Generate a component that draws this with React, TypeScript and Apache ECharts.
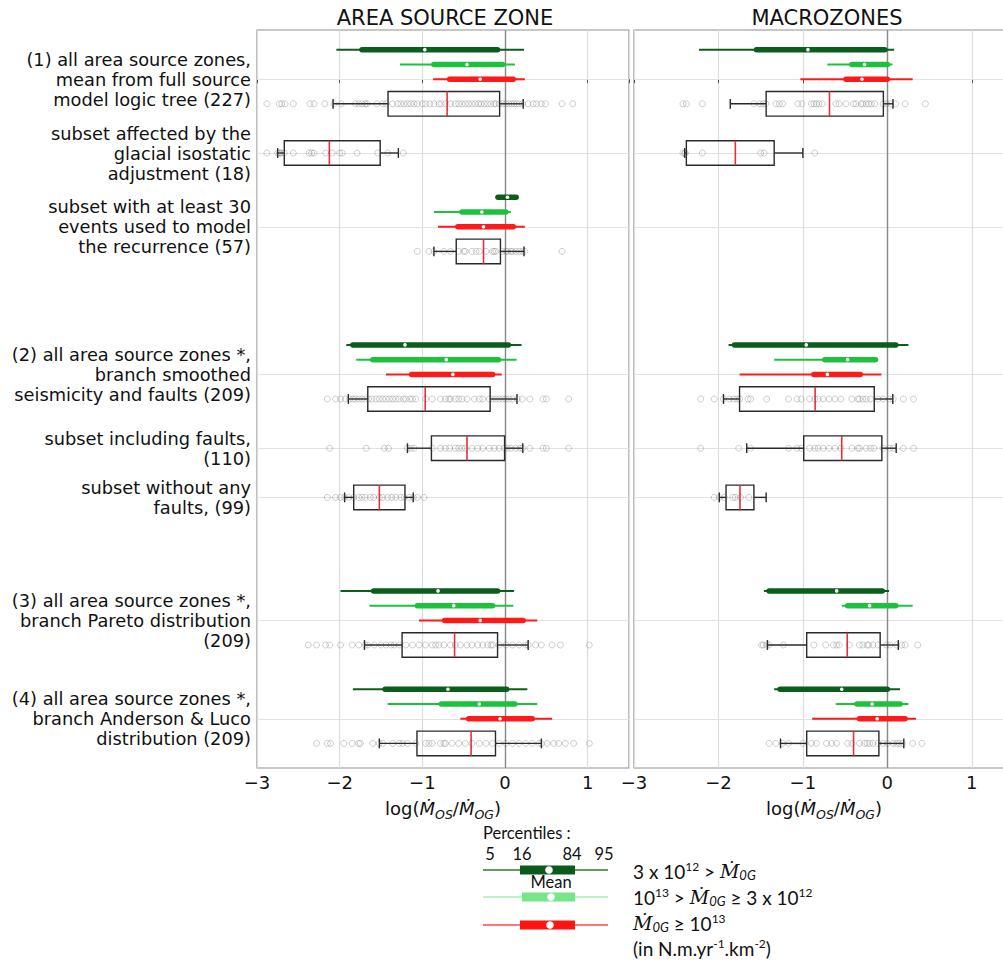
import React, { useEffect, useRef } from "react";
import * as echarts from "echarts";

const ROW_LABELS = [
  "(1) all area source zones,\nmean from full source\nmodel logic tree (227)",
  "subset affected by the\nglacial isostatic\nadjustment (18)",
  "subset with at least 30\nevents used to model\nthe recurrence (57)",
  "(2) all area source zones *,\nbranch smoothed\nseismicity and faults (209)",
  "subset including faults,\n(110)",
  "subset without any\nfaults, (99)",
  "(3) all area source zones *,\nbranch Pareto distribution\n(209)",
  "(4) all area source zones *,\nbranch Anderson & Luco\ndistribution (209)",
];
const ROW_POS = [0, 3, 6, 12, 15, 17, 22, 26];
const BOX_SHIFT = [1, 0, 1, 1, 0, 0, 1, 1];
const SHIFT_DARK = -1.2;
const SHIFT_LIGHT = -0.6;
const SHIFT_RED = 0;
const X_TICKS = [-3, -2, -1, 0, 1];

// percentile bars: [row, p5, p16, p84, p95, mean]
const ASZ_DARK = [
  [0, -2.04, -1.73, -0.09, 0.23, -0.97],
  [2, -0.085, -0.085, 0.135, 0.135, 0.03],
  [3, -1.92, -1.84, 0.04, 0.2, -1.21],
  [6, -1.99, -1.59, -0.09, 0.11, -0.81],
  [7, -1.84, -1.45, 0.02, 0.27, -0.69],
];
const ASZ_LIGHT = [
  [0, -1.27, -0.86, -0.03, 0.12, -0.46],
  [2, -0.86, -0.52, 0.01, 0.07, -0.28],
  [3, -1.8, -1.6, -0.08, 0.14, -0.71],
  [6, -1.64, -1.06, -0.15, 0.1, -0.62],
  [7, -1.42, -0.77, 0.12, 0.39, -0.31],
];
const ASZ_RED = [
  [0, -0.87, -0.67, 0.1, 0.24, -0.3],
  [2, -0.81, -0.57, 0.1, 0.24, -0.26],
  [3, -1.44, -1.13, -0.15, -0.04, -0.63],
  [6, -1.04, -0.73, 0.22, 0.39, -0.3],
  [7, -0.54, -0.44, 0.33, 0.57, -0.06],
];
// boxes: [row, lowWhisker, q1, median, q3, highWhisker]
const ASZ_BOX = [
  [0, -2.08, -1.415, -0.7, -0.065, 0.22],
  [1, -2.75, -2.67, -2.125, -1.51, -1.29],
  [2, -0.86, -0.59, -0.26, -0.055, 0.23],
  [3, -1.895, -1.66, -0.965, -0.18, 0.145],
  [4, -1.18, -0.89, -0.46, -0.005, 0.215],
  [5, -1.94, -1.83, -1.52, -1.21, -1.11],
  [6, -1.7, -1.245, -0.61, -0.09, 0.28],
  [7, -1.52, -1.065, -0.41, -0.115, 0.44],
];
const ASZ_POINTS = [
  [-2.88, -2.73, -2.7, -2.66, -2.56, -2.36, -2.31, -2.18, -2.07, -1.98, -1.81, -1.77, -1.73, -1.69, -1.67, -1.55, -1.48, -1.44, -1.36, -1.3, -1.26, -1.22, -1.18, -1.14, -1.1, -1.06, -1.0, -0.96, -0.91, -0.86, -0.8, -0.77, -0.72, -0.66, -0.6, -0.56, -0.52, -0.48, -0.44, -0.4, -0.36, -0.32, -0.29, -0.25, -0.21, -0.17, -0.13, -0.11, -0.07, -0.03, 0.01, 0.05, 0.08, 0.11, 0.14, 0.17, 0.21, 0.28, 0.34, 0.38, 0.44, 0.49, 0.69, 0.82],
  [-2.88, -2.75, -2.73, -2.72, -2.7, -2.67, -2.56, -2.37, -2.34, -2.31, -2.17, -2.09, -2.0, -1.97, -1.79, -1.54, -1.42, -1.23],
  [-1.06, -0.92, -0.86, -0.74, -0.66, -0.56, -0.5, -0.48, -0.4, -0.35, -0.31, -0.23, -0.15, -0.13, -0.11, -0.03, 0.01, 0.03, 0.07, 0.09, 0.13, 0.17, 0.21, 0.24, 0.69],
  [-2.15, -2.05, -1.99, -1.93, -1.88, -1.84, -1.81, -1.77, -1.73, -1.69, -1.65, -1.61, -1.56, -1.52, -1.48, -1.44, -1.4, -1.36, -1.32, -1.28, -1.23, -1.2, -1.15, -1.12, -1.08, -0.96, -0.88, -0.78, -0.72, -0.68, -0.66, -0.6, -0.56, -0.52, -0.46, -0.37, -0.31, -0.27, -0.19, -0.15, -0.11, -0.07, -0.03, 0.01, 0.05, 0.09, 0.15, 0.21, 0.3, 0.46, 0.5, 0.77],
  [-2.12, -1.68, -1.46, -1.41, -1.18, -1.14, -1.1, -0.88, -0.78, -0.72, -0.67, -0.6, -0.56, -0.52, -0.48, -0.4, -0.33, -0.27, -0.19, -0.13, -0.07, -0.01, 0.03, 0.07, 0.13, 0.18, 0.21, 0.3, 0.46, 0.5, 0.77],
  [-2.15, -2.05, -1.99, -1.94, -1.89, -1.83, -1.77, -1.73, -1.69, -1.63, -1.59, -1.52, -1.48, -1.42, -1.37, -1.32, -1.26, -1.22, -1.16, -1.11, -1.06, -0.98],
  [-2.38, -2.28, -2.17, -2.12, -1.99, -1.85, -1.77, -1.69, -1.66, -1.58, -1.5, -1.44, -1.38, -1.34, -1.28, -1.2, -1.12, -1.04, -0.96, -0.88, -0.84, -0.8, -0.74, -0.66, -0.6, -0.54, -0.46, -0.4, -0.33, -0.27, -0.21, -0.17, -0.15, -0.07, 0.01, 0.09, 0.17, 0.25, 0.28, 0.37, 0.44, 0.57, 0.67, 1.02],
  [-2.28, -2.15, -2.11, -1.95, -1.85, -1.77, -1.75, -1.6, -1.52, -1.48, -1.36, -1.28, -1.24, -1.18, -1.08, -0.96, -0.92, -0.88, -0.78, -0.74, -0.72, -0.64, -0.56, -0.48, -0.4, -0.31, -0.23, -0.15, -0.07, 0.01, 0.09, 0.17, 0.25, 0.33, 0.41, 0.44, 0.51, 0.59, 0.65, 0.73, 0.83, 1.02],
];

const MZ_DARK = [
  [0, -2.23, -1.55, -0.03, 0.08, -0.94],
  [3, -1.88, -1.81, 0.1, 0.25, -0.96],
  [6, -1.46, -1.4, -0.06, 0.02, -0.6],
  [7, -1.34, -1.27, 0.0, 0.15, -0.54],
];
const MZ_LIGHT = [
  [0, -0.71, -0.42, 0.0, 0.06, -0.27],
  [3, -1.34, -0.74, -0.14, -0.11, -0.47],
  [6, -0.54, -0.47, 0.1, 0.3, -0.21],
  [7, -0.61, -0.36, 0.15, 0.25, -0.18],
];
const MZ_RED = [
  [0, -1.03, -0.49, 0.0, 0.3, -0.3],
  [3, -1.75, -0.87, -0.32, -0.07, -0.71],
  [7, -0.89, -0.33, 0.21, 0.34, -0.12],
];
const MZ_BOX = [
  [0, -1.86, -1.435, -0.685, -0.047, 0.067],
  [1, -2.4, -2.38, -1.8, -1.34, -1.0],
  [3, -1.94, -1.75, -0.855, -0.155, 0.065],
  [4, -1.665, -0.99, -0.54, -0.065, 0.105],
  [5, -1.99, -1.91, -1.745, -1.58, -1.435],
  [6, -1.42, -0.955, -0.475, -0.085, 0.13],
  [7, -1.265, -0.955, -0.4, -0.1, 0.195],
];
const MZ_POINTS = [
  [-2.42, -2.38, -2.19, -1.58, -1.51, -1.47, -1.44, -1.32, -1.28, -1.24, -1.06, -1.01, -0.9, -0.87, -0.84, -0.81, -0.77, -0.61, -0.57, -0.49, -0.4, -0.37, -0.31, -0.29, -0.25, -0.22, -0.19, -0.15, -0.05, -0.01, 0.04, 0.1, 0.21, 0.45],
  [-2.42, -2.4, -2.39, -2.19, -1.5, -1.46, -0.86],
  [],
  [-2.21, -2.05, -1.94, -1.87, -1.82, -1.78, -1.75, -1.65, -1.62, -1.43, -1.17, -1.07, -1.02, -0.92, -0.86, -0.82, -0.76, -0.69, -0.62, -0.55, -0.42, -0.35, -0.33, -0.29, -0.25, -0.2, -0.11, -0.05, 0.03, 0.07, 0.19, 0.31],
  [-2.21, -1.76, -1.62, -1.17, -1.07, -1.02, -0.92, -0.86, -0.82, -0.76, -0.69, -0.62, -0.55, -0.42, -0.35, -0.33, -0.25, -0.2, -0.16, -0.05, 0.03, 0.07, 0.19, 0.31],
  [-2.05, -1.99, -1.93, -1.83, -1.8, -1.74, -1.64],
  [-1.49, -1.47, -1.43, -1.4, -1.23, -0.87, -0.73, -0.64, -0.6, -0.57, -0.45, -0.33, -0.29, -0.24, -0.22, -0.17, -0.11, -0.01, 0.03, 0.11, 0.17, 0.21, 0.36],
  [-1.4, -1.32, -1.24, -1.17, -1.0, -0.9, -0.84, -0.72, -0.66, -0.6, -0.47, -0.42, -0.33, -0.27, -0.24, -0.21, -0.17, -0.11, -0.05, 0.0, 0.07, 0.11, 0.14, 0.18, 0.3, 0.41],
];

const C_DARK = "#0a5e1c";
const C_LIGHT = "#1cc23c";
const C_RED = "#ff1a1a";
const FONT = "DejaVu Sans";
const LFONT = "Lato";

function percentileSeries(rows: number[][], shift: number, color: string, gi: number) {
  return {
    type: "custom",
    xAxisIndex: gi,
    yAxisIndex: gi,
    z: 2,
    silent: true,
    encode: { x: [0, 1, 2, 3, 4], y: 5 },
    data: rows.map((r) => [r[1], r[2], r[3], r[4], r[5], ROW_POS[r[0]] + shift]),
    renderItem: (params: any, api: any) => {
      const y = api.value(5);
      const a = api.coord([api.value(0), y]);
      const b = api.coord([api.value(1), y]);
      const c = api.coord([api.value(2), y]);
      const d = api.coord([api.value(3), y]);
      const m = api.coord([api.value(4), y]);
      return {
        type: "group",
        children: [
          { type: "line", shape: { x1: a[0], y1: a[1], x2: d[0], y2: d[1] }, style: { stroke: color, lineWidth: 2 } },
          { type: "line", shape: { x1: b[0], y1: b[1], x2: c[0], y2: c[1] }, style: { stroke: color, lineWidth: 5.5, lineCap: "round" } },
          { type: "circle", shape: { cx: m[0], cy: m[1], r: 1.8 }, style: { fill: "#ffffff" } },
        ],
      };
    },
  };
}

function boxSeries(rows: number[][], gi: number) {
  return {
    type: "custom",
    xAxisIndex: gi,
    yAxisIndex: gi,
    z: 3,
    silent: true,
    encode: { x: [0, 1, 2, 3, 4], y: 5 },
    data: rows.map((r) => [r[1], r[2], r[3], r[4], r[5], ROW_POS[r[0]] + BOX_SHIFT[r[0]]]),
    renderItem: (params: any, api: any) => {
      const y = api.value(5);
      const unit = api.size([0, 1])[1];
      const h = unit * 0.5;
      const cap = unit * 0.2;
      const wl = api.coord([api.value(0), y]);
      const q1 = api.coord([api.value(1), y]);
      const md = api.coord([api.value(2), y]);
      const q3 = api.coord([api.value(3), y]);
      const wh = api.coord([api.value(4), y]);
      const cy = wl[1];
      const st = { stroke: "#2a2a2a", lineWidth: 1.4, fill: null };
      return {
        type: "group",
        children: [
          { type: "line", shape: { x1: wl[0], y1: cy, x2: q1[0], y2: cy }, style: st },
          { type: "line", shape: { x1: q3[0], y1: cy, x2: wh[0], y2: cy }, style: st },
          { type: "line", shape: { x1: wl[0], y1: cy - cap, x2: wl[0], y2: cy + cap }, style: st },
          { type: "line", shape: { x1: wh[0], y1: cy - cap, x2: wh[0], y2: cy + cap }, style: st },
          { type: "rect", shape: { x: q1[0], y: cy - h, width: q3[0] - q1[0], height: 2 * h }, style: { stroke: "#2a2a2a", lineWidth: 1.4, fill: "none" } },
          { type: "line", shape: { x1: md[0], y1: cy - h, x2: md[0], y2: cy + h }, style: { stroke: "#e8303c", lineWidth: 1.6 } },
        ],
      };
    },
  };
}

function pointSeries(points: number[][], gi: number) {
  const data: number[][] = [];
  points.forEach((row, i) => row.forEach((v) => data.push([v, ROW_POS[i] + BOX_SHIFT[i]])));
  return {
    type: "scatter",
    xAxisIndex: gi,
    yAxisIndex: gi,
    z: 4,
    silent: true,
    symbol: "circle",
    symbolSize: 6,
    itemStyle: { color: "rgba(0,0,0,0)", borderColor: "rgba(70,70,70,0.42)", borderWidth: 0.8 },
    data,
    markLine: {
      silent: true,
      z: 1,
      symbol: ["none", "none"],
      label: { show: false },
      data: [
        ...ROW_POS.map((p) => ({ yAxis: p, lineStyle: { color: "#e2e2e2", width: 1.2, type: "solid" } })),
        { xAxis: 0, lineStyle: { color: "#8a8a8a", width: 1.4, type: "solid" } },
      ],
    },
  };
}

const xName = "log({m|Ṁ}{s|OS}/{m|Ṁ}{s|OG})";
const xNameStyle = {
  fontFamily: FONT,
  fontSize: 18,
  color: "#111",
  lineHeight: 25,
  rich: {
    m: { fontFamily: FONT, fontSize: 18, fontStyle: "italic", color: "#111", lineHeight: 25 },
    s: { fontFamily: FONT, fontSize: 12.5, fontStyle: "italic", color: "#111", lineHeight: 15, verticalAlign: "bottom" },
  },
};

function xAxis(gi: number) {
  return {
    type: "value",
    gridIndex: gi,
    min: -3,
    max: 1.5,
    interval: 1,
    axisLine: { show: false },
    axisTick: { show: true, length: 4, lineStyle: { color: "#555" } },
    axisLabel: {
      fontFamily: FONT,
      fontSize: 18,
      color: "#111",
      margin: 5,
      formatter: (v: number) => (X_TICKS.includes(v) ? (v < 0 ? "−" + Math.abs(v) : String(v)) : ""),
    },
    splitLine: { show: true, lineStyle: { color: "#dcdcdc", width: 1.2 } },
    name: xName,
    nameLocation: "middle",
    nameGap: 23,
    nameTextStyle: xNameStyle,
  };
}

function yAxis(gi: number, labels: boolean) {
  return {
    type: "value",
    gridIndex: gi,
    min: -2,
    max: 28,
    interval: 1,
    inverse: true,
    axisLine: { show: false },
    axisTick: { show: false },
    splitLine: { show: false },
    axisLabel: {
      show: labels,
      fontFamily: FONT,
      fontSize: 17.8,
      lineHeight: 20,
      color: "#111",
      align: "right",
      margin: 6,
      formatter: (v: number) => {
        const r = Math.round(v);
        if (Math.abs(v - r) > 1e-6) return "";
        const i = ROW_POS.indexOf(r);
        return i >= 0 ? ROW_LABELS[i] : "";
      },
    },
  };
}

const supS = { fontFamily: LFONT, fontSize: 12, color: "#111", lineHeight: 12, verticalAlign: "top" };
const subS = { fontFamily: LFONT, fontSize: 13, fontStyle: "italic", color: "#111", lineHeight: 13, verticalAlign: "bottom" };
const mS = { fontFamily: "DejaVu Serif", fontSize: 19, fontStyle: "italic", color: "#111", lineHeight: 21 };
const legendRich = { sup: supS, sub: subS, m: mS };

function legendText(x: number, y: number, text: string, extra: any = {}) {
  return {
    type: "text",
    x,
    y,
    silent: true,
    style: {
      text,
      fontFamily: LFONT,
      fontSize: 19,
      fill: "#111",
      lineHeight: 21,
      verticalAlign: "middle",
      align: "left",
      rich: legendRich,
      ...extra,
    },
  };
}

function legendBar(y: number, line: string, fill: string, x0: number, mx: number) {
  return [
    { type: "line", silent: true, shape: { x1: 483, y1: y, x2: 608, y2: y }, style: { stroke: line, lineWidth: 1.5 } },
    { type: "rect", silent: true, shape: { x: x0, y: y - 4.5, width: 575 - x0, height: 9 }, style: { fill } },
    { type: "circle", silent: true, shape: { cx: mx, cy: y, r: 3.8 }, style: { fill: "#fff" } },
  ];
}

export default function App() {
  const ref = useRef<HTMLDivElement>(null);
  useEffect(() => {
    if (!ref.current) return;
    const chart = echarts.init(ref.current, null, { renderer: "svg" });
    const option: any = {
      animation: false,
      backgroundColor: "#ffffff",
      grid: [
        { left: 257, top: 30, width: 372, height: 738, show: true, borderColor: "#8f8f8f", borderWidth: 1.2, backgroundColor: "transparent" },
        { left: 634, top: 30, width: 380, height: 738, show: true, borderColor: "#8f8f8f", borderWidth: 1.2, backgroundColor: "transparent" },
      ],
      xAxis: [xAxis(0), xAxis(1)],
      yAxis: [yAxis(0, true), yAxis(1, false)],
      series: [
        pointSeries(ASZ_POINTS, 0),
        percentileSeries(ASZ_DARK, SHIFT_DARK, C_DARK, 0),
        percentileSeries(ASZ_LIGHT, SHIFT_LIGHT, C_LIGHT, 0),
        percentileSeries(ASZ_RED, SHIFT_RED, C_RED, 0),
        boxSeries(ASZ_BOX, 0),
        pointSeries(MZ_POINTS, 1),
        percentileSeries(MZ_DARK, SHIFT_DARK, C_DARK, 1),
        percentileSeries(MZ_LIGHT, SHIFT_LIGHT, C_LIGHT, 1),
        percentileSeries(MZ_RED, SHIFT_RED, C_RED, 1),
        boxSeries(MZ_BOX, 1),
      ],
      graphic: [
        { type: "text", x: 445, y: 18, silent: true, style: { text: "AREA SOURCE ZONE", fontFamily: FONT, fontSize: 21, fill: "#111", align: "center", verticalAlign: "middle" } },
        { type: "text", x: 827, y: 18, silent: true, style: { text: "MACROZONES", fontFamily: FONT, fontSize: 21, fill: "#111", align: "center", verticalAlign: "middle" } },
        legendText(483, 833, "Percentiles :", { fontSize: 16.5, lineHeight: 18 }),
        legendText(490, 854, "5", { fontSize: 16.5, lineHeight: 18, align: "center" }),
        legendText(522, 854, "16", { fontSize: 16.5, lineHeight: 18, align: "center" }),
        legendText(572, 854, "84", { fontSize: 16.5, lineHeight: 18, align: "center" }),
        legendText(604, 854, "95", { fontSize: 16.5, lineHeight: 18, align: "center" }),
        ...legendBar(870, "#2e7a38", "#0a5a1c", 520, 549),
        legendText(551, 882, "Mean", { fontSize: 16.5, lineHeight: 18, align: "center" }),
        ...legendBar(897, "#a6efb0", "#77e68a", 522, 551),
        ...legendBar(925, "#ff4848", "#ff1414", 520, 550),
        legendText(633, 871, "3 x 10{sup|12} > {m|Ṁ}{sub|0G}"),
        legendText(633, 897, "10{sup|13} > {m|Ṁ}{sub|0G} ≥ 3 x 10{sup|12}"),
        legendText(633, 923, "{m|Ṁ}{sub|0G} ≥ 10{sup|13}"),
        legendText(633, 948, "(in N.m.yr{sup|-1}.km{sup|-2})"),
      ],
    };
    chart.setOption(option);
    return () => chart.dispose();
  }, []);
  return (
    <div style={{ position: "fixed", left: 0, top: 0, width: 1003, height: 961, overflow: "hidden", background: "#fff" }}>
      <div ref={ref} style={{ width: 1020, height: 961 }} />
    </div>
  );
}
